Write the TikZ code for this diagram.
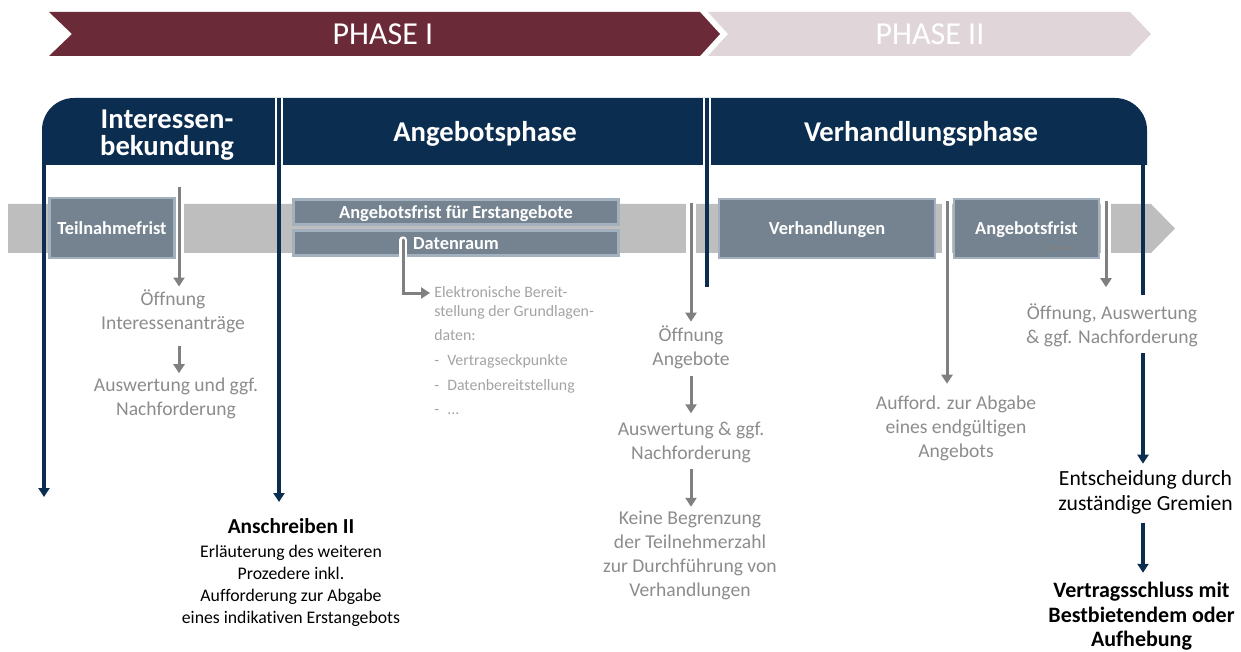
\documentclass[tikz,border=0pt]{standalone}
\usepackage{fontspec}
\setmainfont[Ligatures=NoCommon]{Carlito}
\usepackage{tikz}
\usetikzlibrary{arrows.meta}
\definecolor{phaseone}{HTML}{6B2A38}
\definecolor{phasetwo}{HTML}{E0D6D9}
\definecolor{headnavy}{HTML}{0B2D4F}
\definecolor{bandgrey}{HTML}{BEBEBE}
\definecolor{boxfill}{HTML}{74838F}
\definecolor{boxedge}{HTML}{A3B0BD}
\definecolor{txtgrey}{HTML}{8C8C8C}
\definecolor{listgrey}{HTML}{A3A3A3}
\definecolor{arrowgrey}{HTML}{808080}

\begin{document}
\begin{tikzpicture}[x=0.75pt,y=-0.75pt,
        phasetxt/.style={text=white,anchor=base,inner sep=0,font=\fontsize{24}{26}\selectfont},
        headtxt/.style={text=white,align=center,inner sep=0,font=\fontsize{21.5}{20.25}\selectfont\bfseries},
        stagebox/.style={fill=boxfill,draw=boxedge,line width=1.8pt,text=white,inner sep=0,
          text height=9.5pt,text depth=0pt,font=\fontsize{13.8}{15}\selectfont\bfseries},
        greytxt/.style={text=txtgrey,align=center,inner sep=0,font=\fontsize{14.7}{18}\selectfont},
        listtxt/.style={text=listgrey,align=left,inner sep=0,font=\fontsize{11.9}{18.5}\selectfont},
        darktxt/.style={text=black,align=center,inner sep=0,font=\fontsize{13.3}{16.5}\selectfont},
        bigtxt/.style={text=black,align=center,inner sep=0,font=\fontsize{16.2}{18.75}\selectfont},
        headtip/.style={-{Triangle[length=6.75pt,width=8.25pt]}},
        greyarrow/.style={draw=arrowgrey,line width=2.25pt,headtip},
        cutarrow/.style={greyarrow,preaction={draw=white,line width=7pt,arrows=-}},
        navyline/.style={draw=headnavy,line width=3pt},
        navyarrow/.style={navyline,headtip},
        casing/.style={draw=white,line width=6.5pt}]
        \useasboundingbox (0,0) rectangle (1241,652);
        \fill[phaseone] (49,12) -- (700,12) -- (720,34) -- (700,56) -- (49,56) -- (72,34) -- cycle;
        \fill[phasetwo] (708,12) -- (1130,12) -- (1151,34) -- (1130,56) -- (708,56) -- (728,34) -- cycle;
        \node[phasetxt] (phaseI) at (383,45) {PHASE I};
        \node[phasetxt] (phaseII) at (930,45) {PHASE II};

        \node[greytxt] (oeffnung1) at (173,311) {Öffnung\\Interessenanträge};
        \node[greytxt] (auswertung1) at (176,398) {Auswertung und ggf.\\Nachforderung};
        \node[darktxt] (anschreiben) at (291,573) {{\fontsize{16}{18}\selectfont\bfseries Anschreiben II}\\[1.5pt]Erläuterung des weiteren\\Prozedere inkl.\\Aufforderung zur Abgabe\\eines indikativen Erstangebots};
        \node[listtxt,anchor=north west] (elektronisch) at (434,286) {Elektronische Bereit-\\[-4.25pt]stellung der Grundlagen-\\daten:\\\makebox[9.75pt][l]{-}Vertragseckpunkte\\\makebox[9.75pt][l]{-}Datenbereitstellung\\\makebox[9.75pt][l]{-}...};
        \node[greytxt] (oeffnung2) at (691,347.5) {Öffnung\\Angebote};
        \node[greytxt] (auswertung2) at (691,442) {Auswertung \& ggf.\\Nachforderung};
        \node[greytxt] (begrenzung) at (690,555.5) {Keine Begrenzung\\der Teilnehmerzahl\\zur Durchführung von\\Verhandlungen};
        \node[greytxt] (aufforderung) at (956,428.5) {Aufford. zur Abgabe\\eines endgültigen\\Angebots};
        \node[greytxt] (oeffnung3) at (1112,325) {Öffnung, Auswertung\\\& ggf. Nachforderung};
        \node[bigtxt] (entscheidung) at (1145.5,492.5) {Entscheidung durch\\zuständige Gremien};
        \node[bigtxt,font=\fontsize{16.5}{18.4}\selectfont\bfseries] (vertrag) at (1141.5,616.5) {Vertragsschluss mit\\Bestbietendem oder\\Aufhebung};

        \fill[bandgrey] (8,204) -- (1151,204) -- (1175,228.5) -- (1151,253) -- (8,253) -- cycle;
        \coordinate (g1) at (179,187);
        \coordinate (g2) at (691,203);
        \coordinate (g3) at (947,201);
        \coordinate (g4) at (1106,201);
        \draw[cutarrow,shorten >=2pt] (g1) -- (g1 |- oeffnung1.north);
        \draw[cutarrow,shorten >=3pt] (g2) -- (g2 |- oeffnung2.north);
        \draw[cutarrow,shorten >=9pt] (g3) -- (g3 |- aufforderung.north);
        \draw[cutarrow,shorten >=12pt] (g4) -- (g4 |- oeffnung3.north);

        \node[stagebox,minimum width=94pt,minimum height=44.6pt] (teilnahme) at (112,228) {Teilnahmefrist};
        \node[stagebox,minimum width=244pt,minimum height=19pt] (erstfrist) at (456,212) {Angebotsfrist für Erstangebote};
        \node[stagebox,minimum width=244pt,minimum height=19pt] (datenraum) at (456,243) {Datenraum};
        \node[stagebox,minimum width=161.6pt,minimum height=43.9pt] (verhandlungen) at (827,228.5) {Verhandlungen};
        \node[stagebox,minimum width=108.4pt,minimum height=43.9pt] (angebotsfrist) at (1026.5,228.5) {Angebotsfrist};
        \draw[arrowgrey,line width=1pt] (1048,248) -- (1077,248);
        \coordinate (d0) at (403,240);
        \draw[greyarrow,line cap=round,preaction={draw=white,line width=5.5pt,arrows=-,line cap=round}] (d0) |- ([shift={(-4,7)}]elektronisch.north west);

        \draw[greyarrow,shorten <=10pt,shorten >=3pt] (g1 |- oeffnung1.south) -- (g1 |- auswertung1.north);
        \draw[greyarrow,shorten <=5pt,shorten >=6pt] (g2 |- oeffnung2.south) -- (g2 |- auswertung2.north);
        \draw[greyarrow,shorten <=5pt,shorten >=3pt] (g2 |- auswertung2.south) -- (g2 |- begrenzung.north);

        \begin{scope}
          \clip (0,0) rectangle (1241,165);
          \fill[headnavy,rounded corners=24pt] (42,98) rectangle (1147,260);
        \end{scope}
        \node[headtxt] (interesse) at (167,135) {Interessen-\\bekundung};
        \node[headtxt,anchor=base] (angebot) at (485,141.5) {Angebotsphase};
        \node[headtxt,anchor=base] (verhandlung) at (921,141.5) {Verhandlungsphase};

        \coordinate (n1) at (44,165);
        \coordinate (n1e) at (44,497);
        \coordinate (n2) at (279,98);
        \coordinate (n2e) at (279,502);
        \coordinate (n3) at (707,98);
        \coordinate (n3e) at (707,287);
        \coordinate (n4) at (1143,165);
        \coordinate (n4e) at (1143,295);
        \draw[casing] (n2) -- (n2 |- n1);
        \draw[casing] (n3) -- (n3 |- n1);
        \draw[navyarrow] (n1) -- (n1e);
        \draw[navyarrow] (n2) -- (n2e);
        \draw[navyline] (n3) -- (n3e);
        \draw[navyline] (n4) -- (n4e);
        \draw[navyarrow,shorten <=5pt,shorten >=5pt] (n4 |- oeffnung3.south) -- (n4 |- entscheidung.north);
        \draw[navyarrow,shorten <=6pt,shorten >=7pt] (n4 |- entscheidung.south) -- (n4 |- vertrag.north);
      \end{tikzpicture}
\end{document}
